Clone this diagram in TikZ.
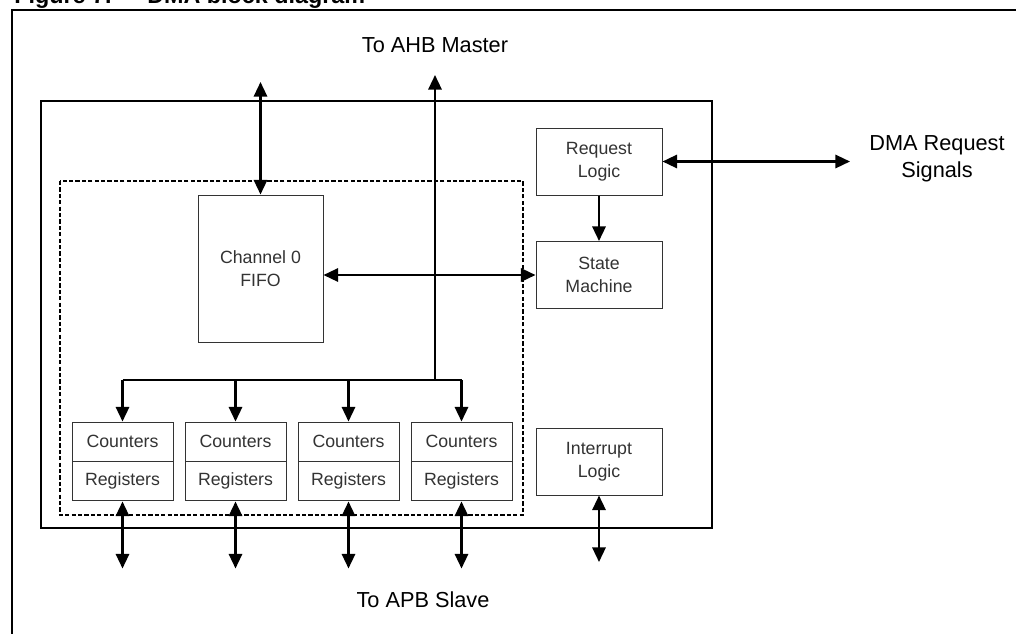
\documentclass[tikz,border=0pt]{standalone}
\usepackage{fontspec}
\setmainfont{Liberation Sans}
\usetikzlibrary{arrows.meta}
\definecolor{boxgray}{HTML}{333333}
\tikzset{
  px/.style={x=0.75pt,y=-0.75pt},
  blk/.style={draw=boxgray, line width=0.75pt, text=boxgray, fill=white,
    font=\fontsize{13.3}{17}\selectfont, align=center, inner sep=0pt},
  fifobox/.style={blk, minimum width=93.75pt, minimum height=110.25pt},
  ctlbox/.style={blk, minimum width=94.5pt, minimum height=50.25pt},
  cellbox/.style={blk, minimum width=75.75pt, minimum height=29.6pt},
  lbl/.style={font=\fontsize{16.3}{20}\selectfont, align=center, inner sep=0pt},
  ttl/.style={font=\fontsize{17.5}{20}\selectfont\bfseries, inner sep=0pt, anchor=base west},
  conn/.style={line width=1.7pt},
  arr/.style={conn, -{Triangle[length=11pt,width=10pt]}},
  biarr/.style={conn, {Triangle[length=11pt,width=10pt]}-{Triangle[length=11pt,width=10pt]}},
  mainframe/.style={draw=black, line width=1.5pt},
  dashframe/.style={draw=black, line width=1.3pt, dash pattern=on 3.2pt off 1.6pt}
}
\begin{document}
\begin{tikzpicture}[px]
\useasboundingbox (0,0) rectangle (1016,633);
\clip (0,0) rectangle (1016,633);
% title (cropped at the top edge)
\node[ttl] (t1) at (14,3) {Figure 7.};
\node[ttl] (t2) at (147,3) {DMA block diagram};
% outer figure frame
\draw[line width=1.6pt] (12,660) |- (1040,10);
% main block and dashed channel area
\draw[mainframe] (41,101) rectangle (712,528);
\draw[dashframe] (60,181) rectangle (523,515);
% blocks
\node[fifobox] (fifo) at (260.5,268.5) {Channel 0\\FIFO};
\node[ctlbox] (req) at (599,161.5) {Request\\Logic};
\node[ctlbox] (sm) at (599,275) {State\\Machine};
\node[ctlbox] (int) at (599,461.5) {Interrupt\\Logic};
\foreach \i/\x in {1/122.5,2/235.5,3/348.5,4/461.5}{
  \node[cellbox] (ctr\i) at (\x,441.75) {Counters};
  \node[cellbox] (reg\i) at (\x,481.25) {Registers};
}
% labels
\node[lbl] (ahb) at (435,45) {To AHB Master};
\node[lbl] (apb) at (423,600) {To APB Slave};
\node[lbl] (dma) at (937,159) {DMA Request\\Signals};
% coordinates
\coordinate (fifotop) at (260.5,82);
\coordinate (ahbtop) at (435,75);
\coordinate (bus) at (435,380);
\coordinate (dmaend) at (850,161.5);
\coordinate (intend) at (599,562);
% connectors
\draw[biarr] (fifotop) -- (fifo.north);
\draw[arr] (bus) -- (ahbtop);
\draw[conn] (ctr1.north |- bus) -- (ctr4.north |- bus);
\foreach \i in {1,2,3,4}{
  \draw[arr] (ctr\i.north |- bus) -- (ctr\i.north);
  \coordinate (rend\i) at ([yshift=-67*0.75pt]reg\i.south);
  \draw[biarr] (reg\i.south) -- (rend\i);
}
\draw[biarr] (fifo.east |- sm.west) -- (sm.west);
\draw[arr] (req.south) -- (sm.north);
\draw[biarr] (req.east) -- (dmaend);
\draw[biarr] (int.south) -- (intend);
\end{tikzpicture}
\end{document}
